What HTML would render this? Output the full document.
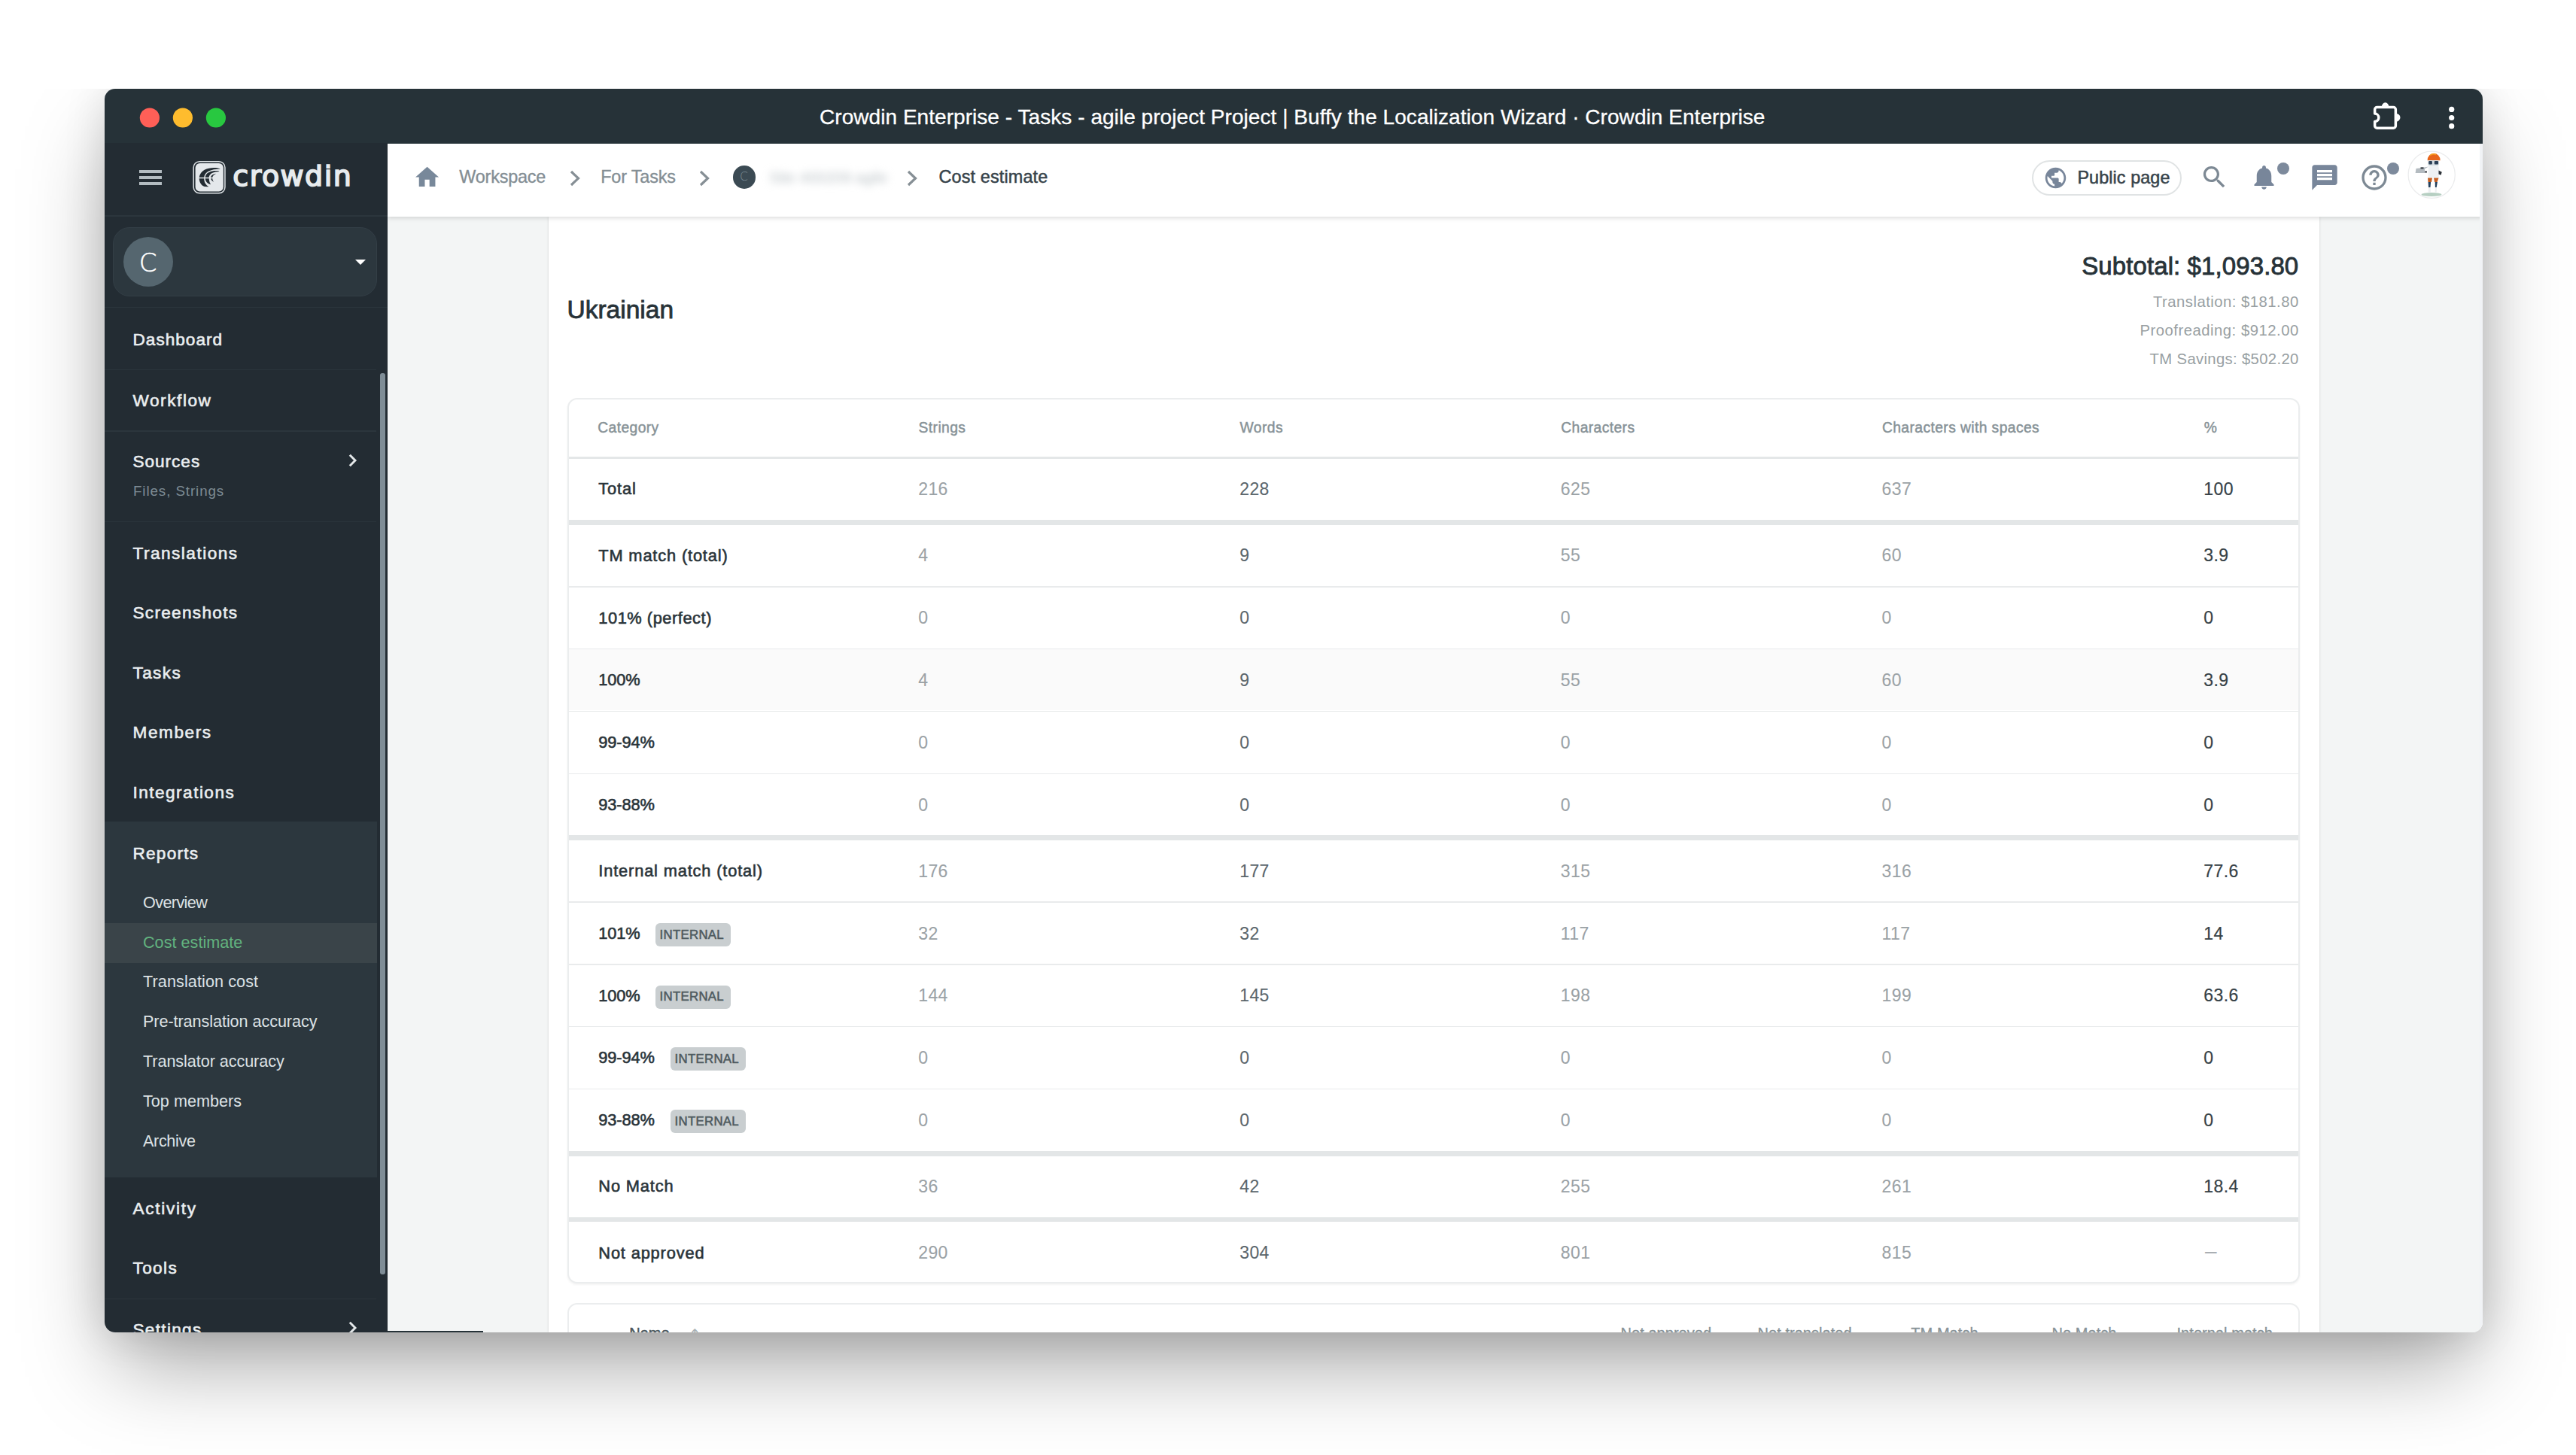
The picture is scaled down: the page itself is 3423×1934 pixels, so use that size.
<!DOCTYPE html>
<html lang="en"><head><meta charset="utf-8"><title>Crowdin Enterprise - Cost estimate</title>
<style>
*{box-sizing:border-box;margin:0;padding:0}
html,body{width:3423px;height:1934px;background:#fff;overflow:hidden}
body{position:relative;font-family:"Liberation Sans",Arial,sans-serif;-webkit-font-smoothing:antialiased}
.t{position:absolute;white-space:nowrap;font-weight:400;text-decoration:none}
.abs{position:absolute}
#shadow{position:absolute;left:139px;top:118px;width:3160px;height:1653px;border-radius:14px;box-shadow:0 54px 110px -14px rgba(0,0,0,.36),0 0 56px rgba(0,0,0,.12)}
#topclip{position:absolute;left:0;top:0;width:3423px;height:118px;background:#fff}
#win{position:absolute;left:139px;top:118px;width:3160px;height:1653px;border-radius:14px;overflow:hidden;background:#f3f5f5}
#titlebar{position:absolute;left:0;top:0;width:3160px;height:73px;background:#263238}
.dot{position:absolute;top:25.300px;width:26.400px;height:26.400px;border-radius:50%}
#sidebar{position:absolute;left:0;top:72px;width:376px;height:1581px;background:#232c33;overflow:hidden}
#main{position:absolute;left:376px;top:73px;width:2784px;height:1580px;background:#f3f5f5;overflow:hidden}
#header{position:absolute;left:0;top:0;width:2784px;height:97px;background:#fff;box-shadow:0 2px 6px rgba(0,0,0,.14);z-index:5}
.card{position:absolute;background:#fff;border:2px solid #ebedee;border-radius:13px;overflow:hidden}
.hr{position:absolute;left:0;width:100%;background:#e9ebec}
.nav-div{position:absolute;left:0;width:361px;height:1.500px;background:#2b353c}
.badge{position:absolute;height:31px;border-radius:6px;background:#c9ced0}
</style></head>
<body>
<div id="shadow"></div><div id="topclip"></div>
<div id="win">
<div id="titlebar"><svg class="abs" style="left:40px;top:20px" width="130" height="40" viewBox="0 0 130 40"><circle cx="19.900" cy="18.500" r="13.100" fill="#ff5f57"/><circle cx="63.900" cy="18.500" r="13.100" fill="#febc2e"/><circle cx="107.900" cy="18.500" r="13.100" fill="#28c840"/></svg><div class="t" style="top:19.70px;font-size:28px;line-height:36px;color:#fff;left:950px;letter-spacing:0.05px;-webkit-text-stroke:0.3px #fff;">Crowdin Enterprise - Tasks - agile project Project | Buffy the Localization Wizard · Crowdin Enterprise</div><svg class="abs" style="left:3011px;top:14px" width="44" height="44" viewBox="0 0 44 44"><path fill="none" stroke="#fff" stroke-width="3.500" stroke-linejoin="round" d="M8.650 10.550H30.350a3 3 0 0 1 3 3V35.250a3 3 0 0 1-3 3H8.650a3 3 0 0 1-3-3V29.500a5.200 5.200 0 0 0 0-10.400V13.550a3 3 0 0 1 3-3Z"/><path fill="#fff" d="M14.600 10.800A5 6.600 0 0 1 24.600 10.800ZM33.200 18.700A6.300 5.600 0 0 1 33.200 29.900Z"/></svg><svg class="abs" style="left:3109px;top:14px" width="20" height="44" viewBox="0 0 20 44"><g fill="#fff"><circle cx="9.700" cy="13.400" r="3.600"/><circle cx="9.700" cy="24.500" r="3.600"/><circle cx="9.700" cy="35.700" r="3.600"/></g></svg></div>
<div id="sidebar"><span class="abs" style="left:46px;top:36px;width:30px;height:3.6px;background:#b3bcc1"></span><span class="abs" style="left:46px;top:44px;width:30px;height:3.6px;background:#b3bcc1"></span><span class="abs" style="left:46px;top:52px;width:30px;height:3.6px;background:#b3bcc1"></span><svg class="abs" style="left:116px;top:22px" width="47" height="47" viewBox="0 0 47 47"><rect x="2.150" y="2.650" width="41.800" height="42.100" rx="8" fill="none" stroke="#dfe4e7" stroke-width="1.500"/><rect x="4.600" y="5" width="37.200" height="37.500" rx="6" fill="#e4e8eb"/><g fill="#232c33"><path d="M37.300 12.200C28 9.500 12 11 9.600 23.700L16.200 23.700C17 15.500 27 12.500 37.300 12.700Z"/><path d="M9.600 25.300C10 31 13 35 17 36L22.400 36.200C18.500 34 16.200 30.500 16.200 25.300Z"/><path d="M36.200 15.400C29 14.300 18.500 16 17.700 23.700L22.600 23.700C23.200 18.500 29 16 36.200 15.900Z"/><path d="M17.700 25.300C18 29.500 21 32.500 25.200 33.200C23.500 31 22.800 28.500 22.800 25.300Z"/><path d="M31.500 18.700C28 19.500 25.300 21 25 23.700L27.300 23.700C27.800 21.500 29.300 20 31.500 19.300Z"/><path d="M25.200 25.300C25.500 27.500 27 29.200 29.200 29.800C28 28.500 27.400 27.200 27.300 25.300Z"/></g></svg><div class="t" style="top:19.83px;font-size:38px;line-height:49px;color:#e8ecee;left:170.3px;letter-spacing:1.45px;-webkit-text-stroke:1.7px #e8ecee;font-family:'DejaVu Sans','Liberation Sans',sans-serif;">crowdin</div><div class="nav-div" style="top:96px;width:376px"></div><div class="abs" style="left:11px;top:112px;width:351px;height:92px;border-radius:22px;background:#2c373e;border:1.500px solid #333e46"><span class="abs" style="left:12.5px;top:11.9px;width:66px;height:66px;border-radius:50%;background:#55666f"></span><div class="t" style="top:23.72px;font-size:34px;line-height:44px;color:#fff;left:33.8px;-webkit-text-stroke:0.5px #fff;font-family:'DejaVu Sans','Liberation Sans',sans-serif;font-weight:200;">C</div><span class="abs" style="left:320.5px;top:41.5px;width:0;height:0;border-left:7px solid transparent;border-right:7px solid transparent;border-top:7px solid #fff"></span></div><div class="nav-div" style="top:217.6px;width:376px"></div><nav><a class="t" style="top:247.07px;font-size:22.6px;line-height:29px;color:#eaeef0;left:37.5px;letter-spacing:1.01px;-webkit-text-stroke:0.6px #eaeef0;">Dashboard</a><div class="nav-div" style="top:300.7px;width:361px"></div><a class="t" style="top:328.07px;font-size:22.6px;line-height:29px;color:#eaeef0;left:37.5px;letter-spacing:1.56px;-webkit-text-stroke:0.6px #eaeef0;">Workflow</a><div class="nav-div" style="top:382.3px;width:361px"></div><a class="t" style="top:409.37px;font-size:22.6px;line-height:29px;color:#eaeef0;left:37.5px;letter-spacing:0.97px;-webkit-text-stroke:0.6px #eaeef0;">Sources</a><div class="t" style="top:451.49px;font-size:18.8px;line-height:24px;color:#7d8b93;left:38px;letter-spacing:0.9px;">Files, Strings</div><svg class="abs" style="left:323.0px;top:410.5px" width="14" height="22" viewBox="0 0 14 22"><path d="M2.800 3.800L10 11L2.800 18.200" fill="none" stroke="#e4e8ea" stroke-width="2.900"/></svg><div class="nav-div" style="top:502.6px;width:361px"></div><a class="t" style="top:530.77px;font-size:22.6px;line-height:29px;color:#eaeef0;left:37.5px;letter-spacing:1.49px;-webkit-text-stroke:0.6px #eaeef0;">Translations</a><a class="t" style="top:610.07px;font-size:22.6px;line-height:29px;color:#eaeef0;left:37.5px;letter-spacing:1.29px;-webkit-text-stroke:0.6px #eaeef0;">Screenshots</a><a class="t" style="top:689.57px;font-size:22.6px;line-height:29px;color:#eaeef0;left:37.5px;letter-spacing:1.36px;-webkit-text-stroke:0.6px #eaeef0;">Tasks</a><a class="t" style="top:768.97px;font-size:22.6px;line-height:29px;color:#eaeef0;left:37.5px;letter-spacing:1.57px;-webkit-text-stroke:0.6px #eaeef0;">Members</a><a class="t" style="top:848.57px;font-size:22.6px;line-height:29px;color:#eaeef0;left:37.5px;letter-spacing:1.47px;-webkit-text-stroke:0.6px #eaeef0;">Integrations</a><div class="abs" style="left:0;top:902px;width:362px;height:473px;background:#2c373e"></div><a class="t" style="top:929.87px;font-size:22.6px;line-height:29px;color:#eaeef0;left:37.5px;letter-spacing:1.23px;-webkit-text-stroke:0.6px #eaeef0;">Reports</a><div class="abs" style="left:0;top:1036.5px;width:362px;height:53px;background:#3a4449"></div><a class="t" style="top:995.62px;font-size:21.6px;line-height:28px;color:#dde2e5;left:51px;letter-spacing:-0.6px;">Overview</a><a class="t" style="top:1048.52px;font-size:21.6px;line-height:28px;color:#62b37f;left:51px;letter-spacing:0.03px;">Cost estimate</a><a class="t" style="top:1101.42px;font-size:21.6px;line-height:28px;color:#dde2e5;left:51px;letter-spacing:0.1px;">Translation cost</a><a class="t" style="top:1154.32px;font-size:21.6px;line-height:28px;color:#dde2e5;left:51px;letter-spacing:-0.06px;">Pre-translation accuracy</a><a class="t" style="top:1207.22px;font-size:21.6px;line-height:28px;color:#dde2e5;left:51px;letter-spacing:-0.06px;">Translator accuracy</a><a class="t" style="top:1260.12px;font-size:21.6px;line-height:28px;color:#dde2e5;left:51px;letter-spacing:0.03px;">Top members</a><a class="t" style="top:1313.02px;font-size:21.6px;line-height:28px;color:#dde2e5;left:51px;letter-spacing:-0.35px;">Archive</a><a class="t" style="top:1402.07px;font-size:22.6px;line-height:29px;color:#eaeef0;left:37.5px;letter-spacing:1.7px;-webkit-text-stroke:0.6px #eaeef0;">Activity</a><a class="t" style="top:1481.47px;font-size:22.6px;line-height:29px;color:#eaeef0;left:37.5px;letter-spacing:1.36px;-webkit-text-stroke:0.6px #eaeef0;">Tools</a><div class="nav-div" style="top:1535.6px;width:361px"></div><a class="t" style="top:1563.07px;font-size:22.6px;line-height:29px;color:#eaeef0;left:37.5px;letter-spacing:1.3px;-webkit-text-stroke:0.6px #eaeef0;">Settings</a><svg class="abs" style="left:323.0px;top:1564.0px" width="14" height="22" viewBox="0 0 14 22"><path d="M2.800 3.800L10 11L2.800 18.200" fill="none" stroke="#e4e8ea" stroke-width="2.900"/></svg></nav><div class="abs" style="left:366px;top:306px;width:6.500px;height:1198px;border-radius:3px;background:#7f8d96"></div></div>
<div id="main"><header id="header"><svg class="abs" style="left:34.4px;top:25.7px" width="37.200" height="37.200" viewBox="0 0 24 24"><path fill="#78889a" d="M10 20v-6h4v6h5v-8h3L12 3 2 12h3v8z"/></svg><div class="t" style="top:29.49px;font-size:23.4px;line-height:30px;color:#848e94;left:95.3px;letter-spacing:-0.2px;-webkit-text-stroke:0.35px #848e94;">Workspace</div><svg class="abs" style="left:240.5px;top:33.5px" width="16" height="24" viewBox="0 0 16 24"><path d="M3 3L12.500 12L3 21" fill="none" stroke="#868f95" stroke-width="3.200"/></svg><div class="t" style="top:29.49px;font-size:23.4px;line-height:30px;color:#848e94;left:283.2px;letter-spacing:-0.15px;-webkit-text-stroke:0.35px #848e94;">For Tasks</div><svg class="abs" style="left:413.0px;top:33.5px" width="16" height="24" viewBox="0 0 16 24"><path d="M3 3L12.500 12L3 21" fill="none" stroke="#868f95" stroke-width="3.200"/></svg><span class="abs" style="left:458.7px;top:29.2px;width:30.500px;height:30.500px;border-radius:50%;background:#3b4a53"></span><div class="t" style="top:34.43px;font-size:15.5px;line-height:20px;color:#7c8d97;left:468px;font-family:'DejaVu Sans',sans-serif;font-weight:200;">C</div><span class="t" style="left:507px;top:31px;font-size:21px;line-height:28px;color:#bcc3c7;filter:blur(5.500px);letter-spacing:-0.300px">Site 400209 agile</span><svg class="abs" style="left:688.5px;top:33.5px" width="16" height="24" viewBox="0 0 16 24"><path d="M3 3L12.500 12L3 21" fill="none" stroke="#868f95" stroke-width="3.200"/></svg><div class="t" style="top:29.49px;font-size:23.4px;line-height:30px;color:#37434a;left:732.5px;letter-spacing:0.14px;-webkit-text-stroke:0.5px #37434a;">Cost estimate</div><div class="abs" style="left:2185px;top:22px;width:199px;height:47px;border-radius:24px;border:2.500px solid #e0e3e4;background:#fff"></div><svg class="abs" style="left:2200px;top:28.5px" width="33" height="33" viewBox="0 0 24 24"><path fill="#78869a" d="M12 2C6.480 2 2 6.480 2 12s4.480 10 10 10 10-4.480 10-10S17.520 2 12 2zm-1 17.930c-3.950-.490-7-3.850-7-7.930 0-.620.080-1.210.210-1.790L9 15v1c0 1.100.9 2 2 2v1.930zm6.900-2.540c-.260-.810-1-1.390-1.900-1.390h-1v-3c0-.550-.450-1-1-1H8v-2h2c.550 0 1-.450 1-1V7h2c1.100 0 2-.9 2-2v-.410c2.930 1.190 5 4.060 5 7.410 0 2.080-.8 3.970-2.100 5.390z"/></svg><div class="t" style="top:30.09px;font-size:23.4px;line-height:30px;color:#37434a;left:2245.4px;letter-spacing:0.08px;-webkit-text-stroke:0.5px #37434a;">Public page</div><svg class="abs" style="left:2407.5px;top:24.5px" width="39" height="39" viewBox="0 0 24 24"><path fill="#7d8994" d="M15.500 14h-.790l-.280-.270C15.410 12.590 16 11.110 16 9.500 16 5.910 13.090 3 9.500 3S3 5.910 3 9.500 5.910 16 9.500 16c1.610 0 3.090-.590 4.230-1.570l.270.280v.790l5 4.990L20.490 19l-4.990-5zm-6 0C7.010 14 5 11.990 5 9.500S7.010 5 9.500 5 14 7.010 14 9.500 11.990 14 9.500 14z"/></svg><svg class="abs" style="left:2474.2px;top:24.8px" width="39" height="39" viewBox="0 0 24 24"><path fill="#78869a" d="M12 22c1.100 0 2-.9 2-2h-4c0 1.100.890 2 2 2zm6-6v-5c0-3.070-1.640-5.640-4.500-6.320V4c0-.830-.670-1.500-1.500-1.500s-1.500.670-1.500 1.500v.680C7.630 5.360 6 7.920 6 11v5l-2 2v1h16v-1l-2-2z"/></svg><span class="abs" style="left:2510.7px;top:25.1px;width:16.400px;height:16.400px;border-radius:50%;background:#7d8a9c"></span><svg class="abs" style="left:2553.5px;top:24.8px" width="40" height="40" viewBox="0 0 24 24"><path fill="#78869a" d="M20 2H4c-1.100 0-1.990.9-1.990 2L2 22l4-4h14c1.100 0 2-.9 2-2V4c0-1.100-.9-2-2-2zm-2 12H6v-2h12v2zm0-3H6V9h12v2zm0-3H6V6h12v2z"/></svg><svg class="abs" style="left:2620px;top:24.5px" width="40" height="40" viewBox="0 0 24 24"><path fill="#7d8994" d="M11 18h2v-2h-2v2zm1-16C6.480 2 2 6.480 2 12s4.480 10 10 10 10-4.480 10-10S17.520 2 12 2zm0 18c-4.410 0-8-3.590-8-8s3.590-8 8-8 8 3.590 8 8-3.590 8-8 8zm0-14c-2.210 0-4 1.790-4 4h2c0-1.100.9-2 2-2s2 .9 2 2c0 2-3 1.750-3 5h2c0-2.250 3-2.500 3-5 0-2.210-1.790-4-4-4z"/></svg><span class="abs" style="left:2656.6px;top:24.8px;width:16.400px;height:16.400px;border-radius:50%;background:#7d8a9c"></span><svg class="abs" style="left:2684px;top:9px" width="65" height="65" viewBox="0 0 65 65"><circle cx="32.200" cy="32.300" r="31.100" fill="#fff" stroke="#ebeced" stroke-width="1.300"/><path d="M26.600 13.200a8.500 9.400 0 0 1 17 0z" fill="#e8651a"/><path d="M30 6.500a8 8 0 0 1 8 -1" stroke="#f6a11d" stroke-width="1.500" fill="none"/><rect x="27" y="13" width="15" height="7" rx="2" fill="#d5dde2"/><rect x="28.300" y="14" width="4.600" height="4.400" rx="1" fill="#2b3f55"/><rect x="35.800" y="14" width="5.200" height="4.400" rx="1" fill="#2b3f55"/><path d="M28 21.500L23 24.500 23 30 10.600 30 11.500 24 18 23.200Z" fill="#b4bbc0"/><rect x="17.500" y="22.300" width="4" height="2.200" fill="#3a3f45"/><rect x="23" y="27.500" width="3" height="2" fill="#3a3f45"/><path d="M28 20h13l2 8-1.500 8h-14z" fill="#eef1f3"/><path d="M41.500 26.500l4.300 2.200-1.300 4-3-1.200z" fill="#2c3238"/><path d="M27 36.500h6l-1 5.500h-4.500zM35 36.500h6.500l-2 5.500h-3.500z" fill="#c45e22"/><path d="M27.600 42h3.500l-.6 7h-2.500zM36.700 42h3.200l-1.200 7h-1.800z" fill="#23405c"/><path d="M27.800 49h3v6.500h-3zM36.800 49h2.200l-.3 6.500h-2z" fill="#eceff1"/><ellipse cx="32" cy="58.400" rx="13.400" ry="2.500" fill="#9dbfae" opacity=".75"/></svg></header>
<section class="abs" id="panel" style="left:214px;top:97px;width:2353px;height:1483px;background:#fff;box-shadow:0 0 3px rgba(0,0,0,.15)"><h2 class="t" style="top:101.99px;font-size:33.5px;line-height:44px;color:#273238;left:24.5px;-webkit-text-stroke:0.8px #273238;">Ukrainian</h2><div class="t" style="top:43.77px;font-size:33px;line-height:43px;color:#273238;right:27.7px;letter-spacing:0.1px;-webkit-text-stroke:0.85px #273238;">Subtotal: $1,093.80</div><div class="t" style="top:100.17px;font-size:20.3px;line-height:26px;color:#989fa3;right:27.3px;letter-spacing:0.48px;">Translation: $181.80</div><div class="t" style="top:138.27px;font-size:20.3px;line-height:26px;color:#989fa3;right:27.3px;letter-spacing:0.5px;">Proofreading: $912.00</div><div class="t" style="top:176.27px;font-size:20.3px;line-height:26px;color:#989fa3;right:27.3px;letter-spacing:0.34px;">TM Savings: $502.20</div><div class="card" style="left:25px;top:241px;width:2302px;height:1177px;box-shadow:0 2px 3px rgba(0,0,0,.05)"><div class="t" style="top:25.41px;font-size:19.3px;line-height:25px;color:#879297;left:38.2px;letter-spacing:0.4px;-webkit-text-stroke:0.45px #879297;">Category</div><div class="t" style="top:25.41px;font-size:19.3px;line-height:25px;color:#879297;left:464.6px;letter-spacing:0.4px;-webkit-text-stroke:0.45px #879297;">Strings</div><div class="t" style="top:25.41px;font-size:19.3px;line-height:25px;color:#879297;left:891.6px;letter-spacing:0.4px;-webkit-text-stroke:0.45px #879297;">Words</div><div class="t" style="top:25.41px;font-size:19.3px;line-height:25px;color:#879297;left:1318.2px;letter-spacing:0.4px;-webkit-text-stroke:0.45px #879297;">Characters</div><div class="t" style="top:25.41px;font-size:19.3px;line-height:25px;color:#879297;left:1744.9px;letter-spacing:0.4px;-webkit-text-stroke:0.45px #879297;">Characters with spaces</div><div class="t" style="top:25.41px;font-size:19.3px;line-height:25px;color:#879297;left:2172.7px;letter-spacing:0.4px;-webkit-text-stroke:0.45px #879297;">%</div><div class="hr" style="top:75.7px;height:3.1px;background:#e4e7e8"></div><div class="abs" style="left:0;top:332.3px;width:100%;height:81.2px;background:#fafafa"></div><div class="row"><div class="t" style="top:105.45px;font-size:21.8px;line-height:28px;color:#2a343a;left:39.3px;letter-spacing:0.85px;-webkit-text-stroke:0.6px #2a343a;">Total</div><div class="t" style="top:104.13px;font-size:23px;line-height:30px;color:#9ba2a6;left:464.2px;letter-spacing:0.4px;-webkit-text-stroke:0.1px #9ba2a6;">216</div><div class="t" style="top:104.13px;font-size:23px;line-height:30px;color:#5b666c;left:891.2px;letter-spacing:0.4px;-webkit-text-stroke:0.1px #5b666c;">228</div><div class="t" style="top:104.13px;font-size:23px;line-height:30px;color:#9ba2a6;left:1317.8px;letter-spacing:0.4px;-webkit-text-stroke:0.1px #9ba2a6;">625</div><div class="t" style="top:104.13px;font-size:23px;line-height:30px;color:#9ba2a6;left:1744.5px;letter-spacing:0.4px;-webkit-text-stroke:0.1px #9ba2a6;">637</div><div class="t" style="top:104.13px;font-size:23px;line-height:30px;color:#364147;left:2172.3px;letter-spacing:0.4px;-webkit-text-stroke:0.2px #364147;">100</div></div><div class="hr" style="top:160.3px;height:6.5px;background:#e3e6e7"></div><div class="row"><div class="t" style="top:193.65px;font-size:21.8px;line-height:28px;color:#2a343a;left:39.3px;letter-spacing:0.85px;-webkit-text-stroke:0.6px #2a343a;">TM match (total)</div><div class="t" style="top:192.33px;font-size:23px;line-height:30px;color:#9ba2a6;left:464.2px;letter-spacing:0.4px;-webkit-text-stroke:0.1px #9ba2a6;">4</div><div class="t" style="top:192.33px;font-size:23px;line-height:30px;color:#5b666c;left:891.2px;letter-spacing:0.4px;-webkit-text-stroke:0.1px #5b666c;">9</div><div class="t" style="top:192.33px;font-size:23px;line-height:30px;color:#9ba2a6;left:1317.8px;letter-spacing:0.4px;-webkit-text-stroke:0.1px #9ba2a6;">55</div><div class="t" style="top:192.33px;font-size:23px;line-height:30px;color:#9ba2a6;left:1744.5px;letter-spacing:0.4px;-webkit-text-stroke:0.1px #9ba2a6;">60</div><div class="t" style="top:192.33px;font-size:23px;line-height:30px;color:#364147;left:2172.3px;letter-spacing:0.4px;-webkit-text-stroke:0.2px #364147;">3.9</div></div><div class="hr" style="top:248.0px;height:1.5px;background:#e9ebec"></div><div class="row"><div class="t" style="top:276.55px;font-size:21.8px;line-height:28px;color:#2a343a;left:39.3px;letter-spacing:0.55px;-webkit-text-stroke:0.6px #2a343a;">101% (perfect)</div><div class="t" style="top:275.23px;font-size:23px;line-height:30px;color:#9ba2a6;left:464.2px;letter-spacing:0.4px;-webkit-text-stroke:0.1px #9ba2a6;">0</div><div class="t" style="top:275.23px;font-size:23px;line-height:30px;color:#5b666c;left:891.2px;letter-spacing:0.4px;-webkit-text-stroke:0.1px #5b666c;">0</div><div class="t" style="top:275.23px;font-size:23px;line-height:30px;color:#9ba2a6;left:1317.8px;letter-spacing:0.4px;-webkit-text-stroke:0.1px #9ba2a6;">0</div><div class="t" style="top:275.23px;font-size:23px;line-height:30px;color:#9ba2a6;left:1744.5px;letter-spacing:0.4px;-webkit-text-stroke:0.1px #9ba2a6;">0</div><div class="t" style="top:275.23px;font-size:23px;line-height:30px;color:#364147;left:2172.3px;letter-spacing:0.4px;-webkit-text-stroke:0.2px #364147;">0</div></div><div class="hr" style="top:330.8px;height:1.5px;background:#e9ebec"></div><div class="row"><div class="t" style="top:359.25px;font-size:21.8px;line-height:28px;color:#2a343a;left:39.3px;letter-spacing:-0.1px;-webkit-text-stroke:0.6px #2a343a;">100%</div><div class="t" style="top:357.93px;font-size:23px;line-height:30px;color:#9ba2a6;left:464.2px;letter-spacing:0.4px;-webkit-text-stroke:0.1px #9ba2a6;">4</div><div class="t" style="top:357.93px;font-size:23px;line-height:30px;color:#5b666c;left:891.2px;letter-spacing:0.4px;-webkit-text-stroke:0.1px #5b666c;">9</div><div class="t" style="top:357.93px;font-size:23px;line-height:30px;color:#9ba2a6;left:1317.8px;letter-spacing:0.4px;-webkit-text-stroke:0.1px #9ba2a6;">55</div><div class="t" style="top:357.93px;font-size:23px;line-height:30px;color:#9ba2a6;left:1744.5px;letter-spacing:0.4px;-webkit-text-stroke:0.1px #9ba2a6;">60</div><div class="t" style="top:357.93px;font-size:23px;line-height:30px;color:#364147;left:2172.3px;letter-spacing:0.4px;-webkit-text-stroke:0.2px #364147;">3.9</div></div><div class="hr" style="top:413.5px;height:1.5px;background:#e9ebec"></div><div class="row"><div class="t" style="top:442.35px;font-size:21.8px;line-height:28px;color:#2a343a;left:39.3px;letter-spacing:-0.1px;-webkit-text-stroke:0.6px #2a343a;">99-94%</div><div class="t" style="top:441.03px;font-size:23px;line-height:30px;color:#9ba2a6;left:464.2px;letter-spacing:0.4px;-webkit-text-stroke:0.1px #9ba2a6;">0</div><div class="t" style="top:441.03px;font-size:23px;line-height:30px;color:#5b666c;left:891.2px;letter-spacing:0.4px;-webkit-text-stroke:0.1px #5b666c;">0</div><div class="t" style="top:441.03px;font-size:23px;line-height:30px;color:#9ba2a6;left:1317.8px;letter-spacing:0.4px;-webkit-text-stroke:0.1px #9ba2a6;">0</div><div class="t" style="top:441.03px;font-size:23px;line-height:30px;color:#9ba2a6;left:1744.5px;letter-spacing:0.4px;-webkit-text-stroke:0.1px #9ba2a6;">0</div><div class="t" style="top:441.03px;font-size:23px;line-height:30px;color:#364147;left:2172.3px;letter-spacing:0.4px;-webkit-text-stroke:0.2px #364147;">0</div></div><div class="hr" style="top:496.5px;height:1.5px;background:#e9ebec"></div><div class="row"><div class="t" style="top:525.05px;font-size:21.8px;line-height:28px;color:#2a343a;left:39.3px;letter-spacing:-0.1px;-webkit-text-stroke:0.6px #2a343a;">93-88%</div><div class="t" style="top:523.73px;font-size:23px;line-height:30px;color:#9ba2a6;left:464.2px;letter-spacing:0.4px;-webkit-text-stroke:0.1px #9ba2a6;">0</div><div class="t" style="top:523.73px;font-size:23px;line-height:30px;color:#5b666c;left:891.2px;letter-spacing:0.4px;-webkit-text-stroke:0.1px #5b666c;">0</div><div class="t" style="top:523.73px;font-size:23px;line-height:30px;color:#9ba2a6;left:1317.8px;letter-spacing:0.4px;-webkit-text-stroke:0.1px #9ba2a6;">0</div><div class="t" style="top:523.73px;font-size:23px;line-height:30px;color:#9ba2a6;left:1744.5px;letter-spacing:0.4px;-webkit-text-stroke:0.1px #9ba2a6;">0</div><div class="t" style="top:523.73px;font-size:23px;line-height:30px;color:#364147;left:2172.3px;letter-spacing:0.4px;-webkit-text-stroke:0.2px #364147;">0</div></div><div class="hr" style="top:579.3px;height:7.0px;background:#e3e6e7"></div><div class="row"><div class="t" style="top:613.25px;font-size:21.8px;line-height:28px;color:#2a343a;left:39.3px;letter-spacing:0.85px;-webkit-text-stroke:0.6px #2a343a;">Internal match (total)</div><div class="t" style="top:611.93px;font-size:23px;line-height:30px;color:#9ba2a6;left:464.2px;letter-spacing:0.4px;-webkit-text-stroke:0.1px #9ba2a6;">176</div><div class="t" style="top:611.93px;font-size:23px;line-height:30px;color:#5b666c;left:891.2px;letter-spacing:0.4px;-webkit-text-stroke:0.1px #5b666c;">177</div><div class="t" style="top:611.93px;font-size:23px;line-height:30px;color:#9ba2a6;left:1317.8px;letter-spacing:0.4px;-webkit-text-stroke:0.1px #9ba2a6;">315</div><div class="t" style="top:611.93px;font-size:23px;line-height:30px;color:#9ba2a6;left:1744.5px;letter-spacing:0.4px;-webkit-text-stroke:0.1px #9ba2a6;">316</div><div class="t" style="top:611.93px;font-size:23px;line-height:30px;color:#364147;left:2172.3px;letter-spacing:0.4px;-webkit-text-stroke:0.2px #364147;">77.6</div></div><div class="hr" style="top:667.3px;height:1.5px;background:#e9ebec"></div><div class="row"><div class="t" style="top:696.05px;font-size:21.8px;line-height:28px;color:#2a343a;left:39.3px;letter-spacing:-0.1px;-webkit-text-stroke:0.6px #2a343a;">101%</div><span class="badge" style="left:115px;top:695.8px;width:99.500px"></span><div class="t" style="top:700.58px;font-size:16.8px;line-height:22px;color:#4e5a60;left:120.6px;letter-spacing:0.3px;-webkit-text-stroke:0.55px #4e5a60;">INTERNAL</div><div class="t" style="top:694.73px;font-size:23px;line-height:30px;color:#9ba2a6;left:464.2px;letter-spacing:0.4px;-webkit-text-stroke:0.1px #9ba2a6;">32</div><div class="t" style="top:694.73px;font-size:23px;line-height:30px;color:#5b666c;left:891.2px;letter-spacing:0.4px;-webkit-text-stroke:0.1px #5b666c;">32</div><div class="t" style="top:694.73px;font-size:23px;line-height:30px;color:#9ba2a6;left:1317.8px;letter-spacing:0.4px;-webkit-text-stroke:0.1px #9ba2a6;">117</div><div class="t" style="top:694.73px;font-size:23px;line-height:30px;color:#9ba2a6;left:1744.5px;letter-spacing:0.4px;-webkit-text-stroke:0.1px #9ba2a6;">117</div><div class="t" style="top:694.73px;font-size:23px;line-height:30px;color:#364147;left:2172.3px;letter-spacing:0.4px;-webkit-text-stroke:0.2px #364147;">14</div></div><div class="hr" style="top:750.1px;height:1.5px;background:#e9ebec"></div><div class="row"><div class="t" style="top:778.75px;font-size:21.8px;line-height:28px;color:#2a343a;left:39.3px;letter-spacing:-0.1px;-webkit-text-stroke:0.6px #2a343a;">100%</div><span class="badge" style="left:115px;top:778.5px;width:99.500px"></span><div class="t" style="top:783.28px;font-size:16.8px;line-height:22px;color:#4e5a60;left:120.6px;letter-spacing:0.3px;-webkit-text-stroke:0.55px #4e5a60;">INTERNAL</div><div class="t" style="top:777.43px;font-size:23px;line-height:30px;color:#9ba2a6;left:464.2px;letter-spacing:0.4px;-webkit-text-stroke:0.1px #9ba2a6;">144</div><div class="t" style="top:777.43px;font-size:23px;line-height:30px;color:#5b666c;left:891.2px;letter-spacing:0.4px;-webkit-text-stroke:0.1px #5b666c;">145</div><div class="t" style="top:777.43px;font-size:23px;line-height:30px;color:#9ba2a6;left:1317.8px;letter-spacing:0.4px;-webkit-text-stroke:0.1px #9ba2a6;">198</div><div class="t" style="top:777.43px;font-size:23px;line-height:30px;color:#9ba2a6;left:1744.5px;letter-spacing:0.4px;-webkit-text-stroke:0.1px #9ba2a6;">199</div><div class="t" style="top:777.43px;font-size:23px;line-height:30px;color:#364147;left:2172.3px;letter-spacing:0.4px;-webkit-text-stroke:0.2px #364147;">63.6</div></div><div class="hr" style="top:832.8px;height:1.5px;background:#e9ebec"></div><div class="row"><div class="t" style="top:861.45px;font-size:21.8px;line-height:28px;color:#2a343a;left:39.3px;letter-spacing:-0.1px;-webkit-text-stroke:0.6px #2a343a;">99-94%</div><span class="badge" style="left:135px;top:861.2px;width:99.500px"></span><div class="t" style="top:865.98px;font-size:16.8px;line-height:22px;color:#4e5a60;left:140.6px;letter-spacing:0.3px;-webkit-text-stroke:0.55px #4e5a60;">INTERNAL</div><div class="t" style="top:860.13px;font-size:23px;line-height:30px;color:#9ba2a6;left:464.2px;letter-spacing:0.4px;-webkit-text-stroke:0.1px #9ba2a6;">0</div><div class="t" style="top:860.13px;font-size:23px;line-height:30px;color:#5b666c;left:891.2px;letter-spacing:0.4px;-webkit-text-stroke:0.1px #5b666c;">0</div><div class="t" style="top:860.13px;font-size:23px;line-height:30px;color:#9ba2a6;left:1317.8px;letter-spacing:0.4px;-webkit-text-stroke:0.1px #9ba2a6;">0</div><div class="t" style="top:860.13px;font-size:23px;line-height:30px;color:#9ba2a6;left:1744.5px;letter-spacing:0.4px;-webkit-text-stroke:0.1px #9ba2a6;">0</div><div class="t" style="top:860.13px;font-size:23px;line-height:30px;color:#364147;left:2172.3px;letter-spacing:0.4px;-webkit-text-stroke:0.2px #364147;">0</div></div><div class="hr" style="top:915.5px;height:1.5px;background:#e9ebec"></div><div class="row"><div class="t" style="top:944.15px;font-size:21.8px;line-height:28px;color:#2a343a;left:39.3px;letter-spacing:-0.1px;-webkit-text-stroke:0.6px #2a343a;">93-88%</div><span class="badge" style="left:135px;top:943.9px;width:99.500px"></span><div class="t" style="top:948.68px;font-size:16.8px;line-height:22px;color:#4e5a60;left:140.6px;letter-spacing:0.3px;-webkit-text-stroke:0.55px #4e5a60;">INTERNAL</div><div class="t" style="top:942.83px;font-size:23px;line-height:30px;color:#9ba2a6;left:464.2px;letter-spacing:0.4px;-webkit-text-stroke:0.1px #9ba2a6;">0</div><div class="t" style="top:942.83px;font-size:23px;line-height:30px;color:#5b666c;left:891.2px;letter-spacing:0.4px;-webkit-text-stroke:0.1px #5b666c;">0</div><div class="t" style="top:942.83px;font-size:23px;line-height:30px;color:#9ba2a6;left:1317.8px;letter-spacing:0.4px;-webkit-text-stroke:0.1px #9ba2a6;">0</div><div class="t" style="top:942.83px;font-size:23px;line-height:30px;color:#9ba2a6;left:1744.5px;letter-spacing:0.4px;-webkit-text-stroke:0.1px #9ba2a6;">0</div><div class="t" style="top:942.83px;font-size:23px;line-height:30px;color:#364147;left:2172.3px;letter-spacing:0.4px;-webkit-text-stroke:0.2px #364147;">0</div></div><div class="hr" style="top:999.0px;height:7.0px;background:#e3e6e7"></div><div class="row"><div class="t" style="top:1032.35px;font-size:21.8px;line-height:28px;color:#2a343a;left:39.3px;letter-spacing:0.85px;-webkit-text-stroke:0.6px #2a343a;">No Match</div><div class="t" style="top:1031.03px;font-size:23px;line-height:30px;color:#9ba2a6;left:464.2px;letter-spacing:0.4px;-webkit-text-stroke:0.1px #9ba2a6;">36</div><div class="t" style="top:1031.03px;font-size:23px;line-height:30px;color:#5b666c;left:891.2px;letter-spacing:0.4px;-webkit-text-stroke:0.1px #5b666c;">42</div><div class="t" style="top:1031.03px;font-size:23px;line-height:30px;color:#9ba2a6;left:1317.8px;letter-spacing:0.4px;-webkit-text-stroke:0.1px #9ba2a6;">255</div><div class="t" style="top:1031.03px;font-size:23px;line-height:30px;color:#9ba2a6;left:1744.5px;letter-spacing:0.4px;-webkit-text-stroke:0.1px #9ba2a6;">261</div><div class="t" style="top:1031.03px;font-size:23px;line-height:30px;color:#364147;left:2172.3px;letter-spacing:0.4px;-webkit-text-stroke:0.2px #364147;">18.4</div></div><div class="hr" style="top:1086.8px;height:6.5px;background:#e3e6e7"></div><div class="row"><div class="t" style="top:1120.55px;font-size:21.8px;line-height:28px;color:#2a343a;left:39.3px;letter-spacing:0.85px;-webkit-text-stroke:0.6px #2a343a;">Not approved</div><div class="t" style="top:1119.23px;font-size:23px;line-height:30px;color:#9ba2a6;left:464.2px;letter-spacing:0.4px;-webkit-text-stroke:0.1px #9ba2a6;">290</div><div class="t" style="top:1119.23px;font-size:23px;line-height:30px;color:#5b666c;left:891.2px;letter-spacing:0.4px;-webkit-text-stroke:0.1px #5b666c;">304</div><div class="t" style="top:1119.23px;font-size:23px;line-height:30px;color:#9ba2a6;left:1317.8px;letter-spacing:0.4px;-webkit-text-stroke:0.1px #9ba2a6;">801</div><div class="t" style="top:1119.23px;font-size:23px;line-height:30px;color:#9ba2a6;left:1744.5px;letter-spacing:0.4px;-webkit-text-stroke:0.1px #9ba2a6;">815</div><div class="t" style="top:1114.00px;font-size:28px;line-height:36px;color:#9ea4a8;left:2174.0px;">–</div></div></div><div class="card" style="left:25px;top:1443.5px;width:2302px;height:400px"><div class="t" style="top:25.97px;font-size:20px;line-height:26px;color:#4a565c;left:80.2px;letter-spacing:0.05px;-webkit-text-stroke:0.5px #4a565c;">Name</div><div class="t" style="top:25.97px;font-size:20px;line-height:26px;color:#879297;left:1397.5px;letter-spacing:0.05px;-webkit-text-stroke:0.3px #879297;">Not approved</div><div class="t" style="top:25.97px;font-size:20px;line-height:26px;color:#879297;left:1579.5px;letter-spacing:0.05px;-webkit-text-stroke:0.3px #879297;">Not translated</div><div class="t" style="top:25.97px;font-size:20px;line-height:26px;color:#879297;left:1783.3px;letter-spacing:0.05px;-webkit-text-stroke:0.3px #879297;">TM Match</div><div class="t" style="top:25.97px;font-size:20px;line-height:26px;color:#879297;left:1970.5px;letter-spacing:0.05px;-webkit-text-stroke:0.3px #879297;">No Match</div><div class="t" style="top:25.97px;font-size:20px;line-height:26px;color:#879297;left:2136.5px;letter-spacing:0.05px;-webkit-text-stroke:0.3px #879297;">Internal match</div><div class="t" style="top:27.57px;font-size:20px;line-height:26px;color:#a9b1b5;left:159px;font-family:'DejaVu Sans',sans-serif;">↑</div></div></section>
<div class="abs" style="left:0;top:1577.5px;width:127px;height:3px;background:#263238"></div><div class="abs" style="left:2779.5px;top:0;width:6px;height:1580px;background:#f1f3f6;z-index:6"></div></div>
</div>
</body></html>
